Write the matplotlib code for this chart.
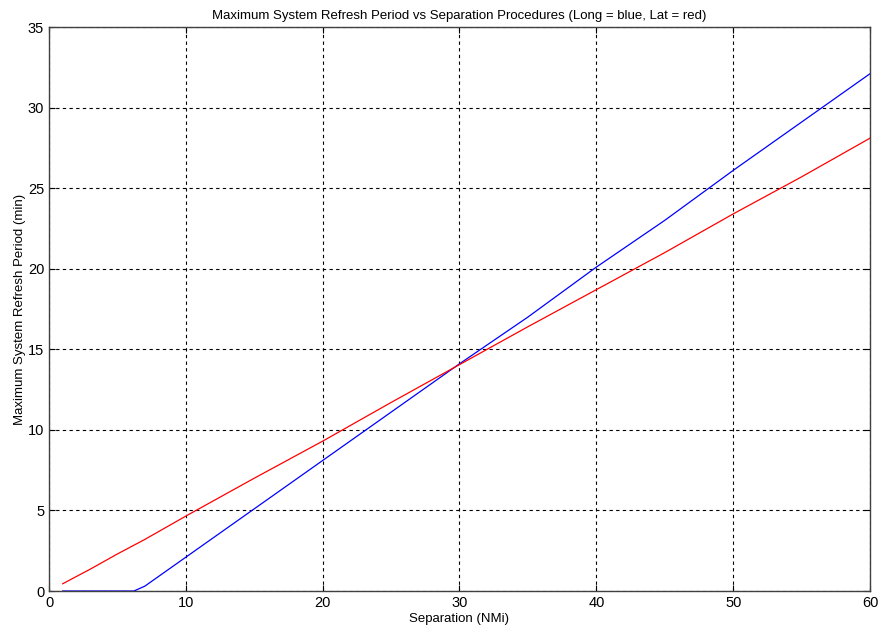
import matplotlib
matplotlib.use("Agg")
import matplotlib.pyplot as plt

plt.rcParams["font.family"] = ["Liberation Sans Narrow", "Liberation Sans", "DejaVu Sans"]

# Lat (red) readings
lat_x = [1, 3, 5, 7, 10, 15, 20, 25, 30, 35, 40, 45, 50, 55, 60]
lat_y = [0.45, 1.35, 2.3, 3.2, 4.65, 7.0, 9.3, 11.7, 14.05, 16.4, 18.7, 21.0, 23.4, 25.7, 28.1]

# Long (blue) readings
long_x = [1, 3, 6.2, 7, 8, 10, 15, 20, 25, 30, 35, 40, 45, 50, 55, 60]
long_y = [0, 0, 0, 0.3, 0.9, 2.1, 5.1, 8.1, 11.1, 14.1, 17.0, 20.1, 23.0, 26.1, 29.1, 32.1]

xticks = [0, 10, 20, 30, 40, 50, 60]
yticks = [0, 5, 10, 15, 20, 25, 30, 35]

fig = plt.figure(figsize=(8.8, 6.34), dpi=100)
ax = fig.add_axes([0.0557, 0.0678, 0.9329, 0.8896])

ax.plot(long_x, long_y, color="#0000ff", lw=0.9)
ax.plot(lat_x, lat_y, color="#ff0000", lw=0.9)

ax.set_xlim(0, 60)
ax.set_ylim(0, 35)
ax.set_xticks(xticks)
ax.set_yticks(yticks)
ax.grid(True, color="black", linestyle=(0, (3, 3)), lw=0.8)
ax.tick_params(direction="in", length=4, labelsize=10.5, top=True, right=True,
               labeltop=False, labelright=False)
for sp in ax.spines.values():
    sp.set_color("#404040")
    sp.set_linewidth(1.0)

ax.set_title("Maximum System Refresh Period vs Separation Procedures (Long = blue, Lat = red)",
             fontsize=9.5, pad=6)
ax.set_xlabel("Separation (NMi)", fontsize=9.5, labelpad=2)
ax.set_ylabel("Maximum System Refresh Period (min)", fontsize=9.5, labelpad=1)

fig.savefig("out.png", facecolor="white")
